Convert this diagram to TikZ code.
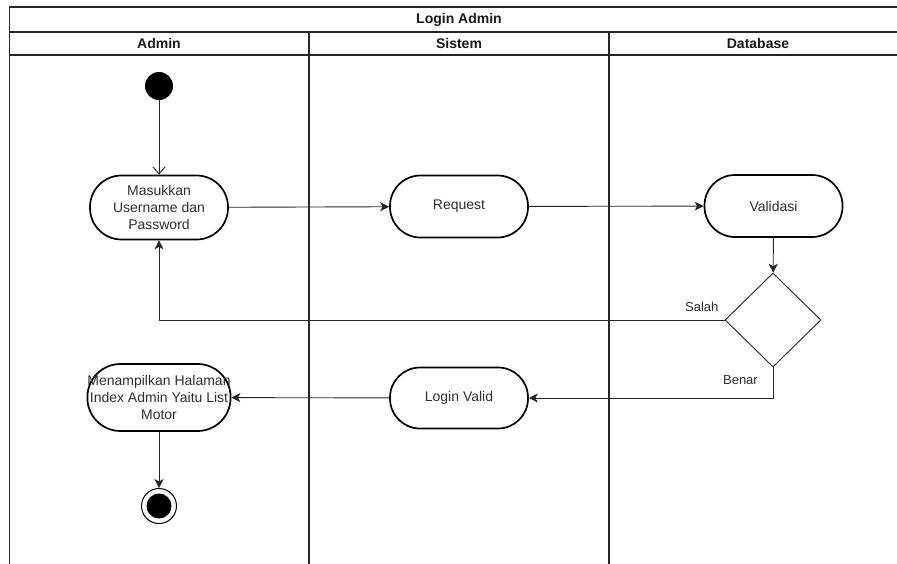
\documentclass[tikz,border=0pt]{standalone}
\usepackage{fontspec}
\setmainfont{Liberation Sans}
\usetikzlibrary{arrows.meta,shapes.geometric,calc}
\begin{document}
\begin{tikzpicture}[x=1pt,y=-1pt,
  lane/.style={draw=black!85, line width=1.1pt},
  act/.style={draw=black, line width=1.7pt, rounded corners=31.5pt, minimum width=138pt,
    minimum height=64pt, inner xsep=0pt, inner ysep=2pt, align=center,
    font=\fontsize{14}{17}\selectfont, text=black!82},
  hdr/.style={font=\bfseries\fontsize{14}{17}\selectfont, text=black!90},
  lbl/.style={font=\fontsize{13}{15}\selectfont, text=black!82, inner sep=0pt},
  arr/.style={draw=black!85, line width=0.9pt, -{Stealth[length=9pt,width=9pt,inset=2.5pt]}},
  openarr/.style={draw=black!85, line width=0.9pt, -{Straight Barb[length=7pt,width=12pt]}},
  decis/.style={draw=black!85, line width=0.9pt, diamond, minimum width=96pt, minimum height=94pt, inner sep=0pt}
]
\useasboundingbox (0,0) rectangle (897,563);
\clip (0,0) rectangle (897,563);
% swimlane frame
\draw[lane] (9.5,7) rectangle (908,620);
\draw[lane] (9.5,32) -- (908,32);
\draw[lane] (9.5,55) -- (908,55);
\draw[lane] (309,32) -- (309,620);
\draw[lane] (609,32) -- (609,620);
\node[hdr] (title) at (459,19.5) {Login Admin};
\node[hdr] (hadmin) at (159,43.5) {Admin};
\node[hdr] (hsistem) at (459,43.5) {Sistem};
\node[hdr] (hdb) at (758,43.5) {Database};
% nodes
\node[circle, fill=black, minimum size=28pt, inner sep=0pt] (start) at (159,86) {};
\node[act] (masuk) at (159,207.5) {Masukkan\\Username dan\\Password};
\node[act, minimum height=62pt, rounded corners=30.5pt] (req) at (459,206.5) {Request};
\node[act, minimum height=62pt, rounded corners=30.5pt] (val) at (773.5,206) {Validasi};
\node[decis] (dec) at (773,320) {};
\node[act, minimum height=61pt, rounded corners=30pt] (login) at (459,398) {Login Valid};
\node[act, minimum width=143pt, minimum height=67pt, rounded corners=33pt] (menam) at (159,397.5) {Menampilkan Halaman\\Index Admin Yaitu List\\Motor};
\node[circle, draw=black, line width=1pt, minimum size=35pt, inner sep=0pt,
  path picture={\fill[black] (path picture bounding box.center) circle (12.5pt);}] (end) at (159,506) {};
% connectors
\draw[openarr] (start) -- (masuk);
\draw[arr] (masuk) -- (req);
\draw[arr] (req) -- (val);
\draw[arr] (val) -- (dec);
\draw[arr] (dec.west) -| (masuk.south);
\draw[arr] (dec.south) |- (login.east);
\draw[arr] (login) -- (menam);
\draw[arr] (menam) -- (end);
\node[lbl, anchor=east] (salah) at ($(dec.west)+(-6,-13)$) {Salah};
\node[lbl, anchor=east] (benar) at ($(dec.south)+(-15,13)$) {Benar};
\end{tikzpicture}
\end{document}
